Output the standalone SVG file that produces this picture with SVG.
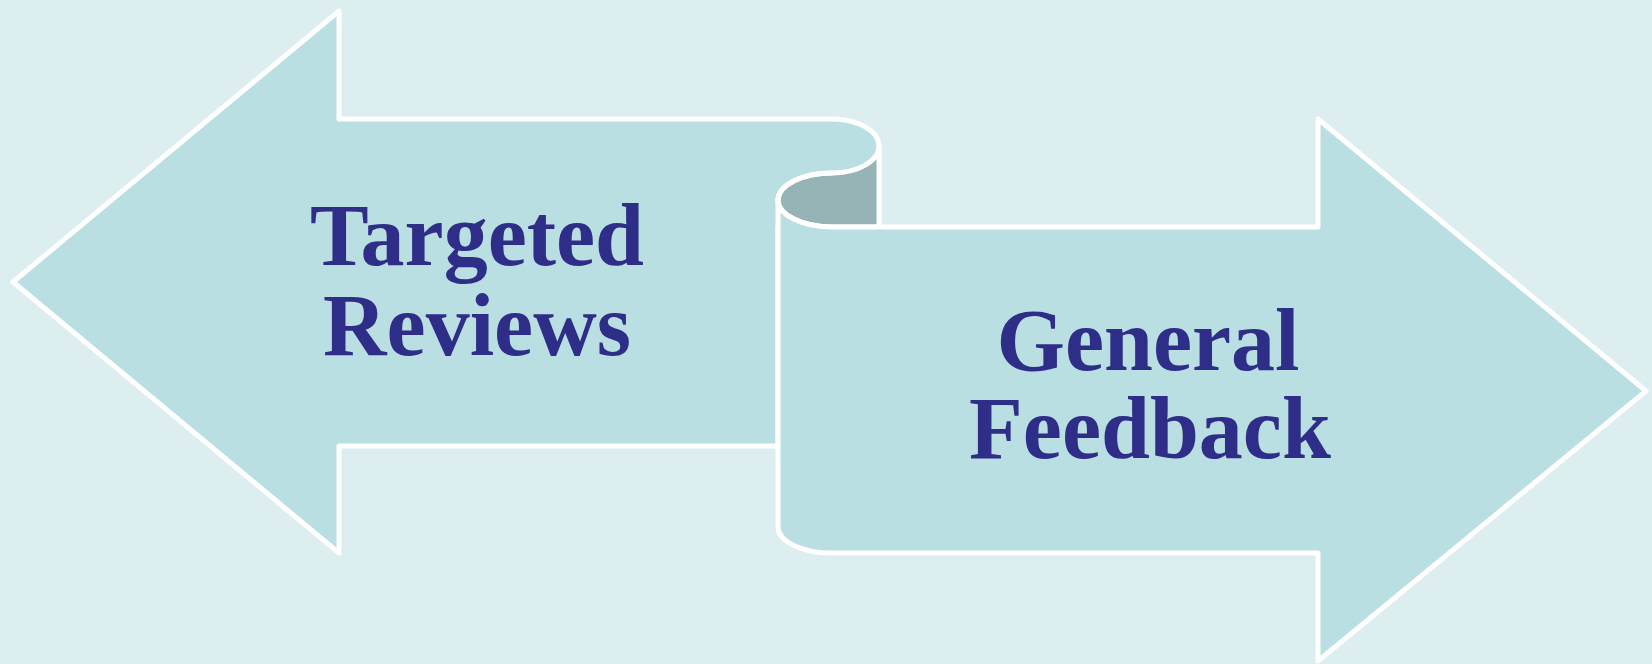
<svg xmlns="http://www.w3.org/2000/svg" width="1652" height="664" viewBox="0 0 1652 664">
<style>
.shape{fill:#BADFE2;stroke:#FFFFFF;stroke-width:5;stroke-linejoin:round}
.dark{fill:#96B4B6;stroke:#FFFFFF;stroke-width:5;stroke-linejoin:round}
.line{fill:none;stroke:#FFFFFF;stroke-width:5;stroke-linecap:round}
.label{font-family:"Liberation Serif","DejaVu Serif",serif;font-weight:bold;font-size:88px;fill:#2E2D88;text-anchor:middle}
</style>
<rect x="0" y="0" width="1652" height="664" fill="#DDEEF0"/>
<g id="targeted-reviews">
<path class="shape" d="M13,282 L339,11 L339,119 L832,119 A47,27 0 0 1 879,146 L879,227 L778,227 L778,446 L339,446 L339,553 Z"/>
<text class="label" x="477" y="265">Targeted</text>
<text class="label" x="477" y="355">Reviews</text>
</g>
<g id="curl">
<path class="dark" d="M879,146 A47,27 0 0 1 832,173 A54,27 0 0 0 778,200 A54,27 0 0 0 832,227 L879,227 Z"/>
</g>
<g id="general-feedback">
<path class="shape" d="M778,200 L778,527 A54,26 0 0 0 832,553 L1318,553 L1318,661 L1646,391 L1318,119 L1318,227 L832,227 A54,27 0 0 1 778,200 Z"/>
<path class="line" d="M778,200 A54,27 0 0 1 832,173"/>
<text class="label" x="1148" y="370">General</text>
<text class="label" x="1150" y="458">Feedback</text>
</g>
<g id="connectors"></g>
</svg>
